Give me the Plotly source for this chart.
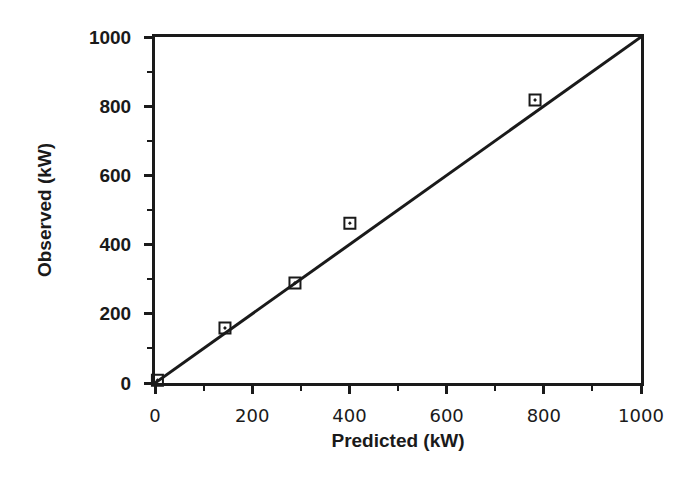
import plotly.graph_objects as go

# Observed vs predicted power (kW)
predicted = [5, 144, 288, 401, 782]
observed = [8, 159, 289, 462, 818]
fit_x = [0, 1000]
fit_y = [0, 1000]
tick_vals = [0, 200, 400, 600, 800, 1000]

fig = go.Figure()
fig.add_trace(go.Scatter(x=fit_x, y=fit_y, mode="lines",
                         line=dict(color="#1a1a1a", width=3), showlegend=False,
                         cliponaxis=False))
fig.add_trace(go.Scatter(x=predicted, y=observed, mode="markers",
                         marker=dict(symbol="square-open-dot", size=11, color="#1a1a1a",
                                     line=dict(width=2, color="#1a1a1a")),
                         showlegend=False, cliponaxis=False))

axis_common = dict(range=[0, 1000], showgrid=False, zeroline=False, showline=True,
                   linecolor="#1a1a1a", linewidth=3, mirror=True,
                   ticks="outside", ticklen=8, tickwidth=2.5, tickcolor="#1a1a1a",
                   tickvals=tick_vals,
                   minor=dict(dtick=100, tick0=0, ticks="outside", ticklen=5,
                              tickwidth=2, tickcolor="#1a1a1a"))

fig.update_xaxes(**axis_common,
                 tickfont=dict(family="DejaVu Sans", size=18, color="#1a1a1a"),
                 ticklabelstandoff=6,
                 title=dict(text="<b>Predicted (kW)</b>", standoff=10,
                            font=dict(family="Liberation Sans", size=19, color="#1a1a1a")))
fig.update_yaxes(**axis_common,
                 tickfont=dict(family="Liberation Sans", size=19, color="#1a1a1a", weight="bold"),
                 ticklabelstandoff=9,
                 title=dict(text="<b>Observed (kW)</b>", standoff=33,
                            font=dict(family="Liberation Sans", size=19, color="#1a1a1a")))

fig.update_layout(width=690, height=478, plot_bgcolor="white", paper_bgcolor="white",
                  margin=dict(l=155, r=49, t=37, b=95))
fig.write_html("out.html")
